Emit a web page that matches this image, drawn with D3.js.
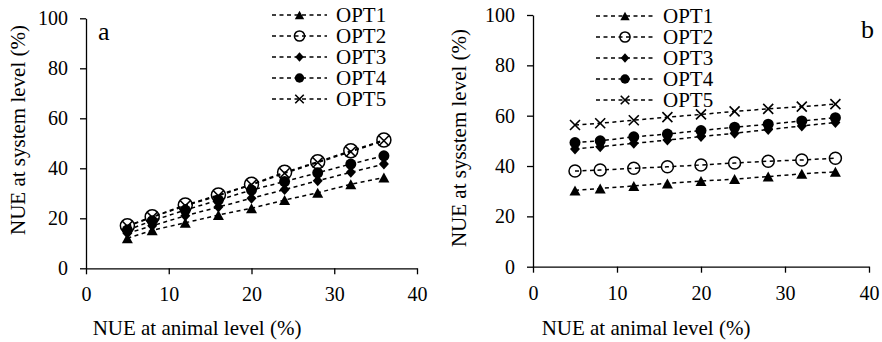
<!DOCTYPE html>
<html>
<head>
<meta charset="utf-8">
<style>
  body { margin: 0; background: #fff; }
  svg .domain, svg .tick line { stroke: #000; stroke-width: 1.3px; }
  svg .series { fill: none; stroke: #000; stroke-width: 1.5px; stroke-dasharray: 4,3.5; }
</style>
</head>
<body>
<script src="https://cdn.jsdelivr.net/npm/d3@7/dist/d3.min.js"></script>
<script>
// data
var nueAnimal = [5, 8, 12, 16, 20, 24, 28, 32, 36];
var seriesNames = ["OPT1", "OPT2", "OPT3", "OPT4", "OPT5"];
var xTicks = [0, 10, 20, 30, 40];
var yTicks = [0, 20, 40, 60, 80, 100];

// panel a
var a_OPT1 = [12, 15.2, 18.2, 21.3, 24, 27.3, 30.2, 33.6, 36.3];
var a_OPT2 = [17, 20.6, 25.3, 29.3, 33.6, 38.4, 42.6, 47, 51.3];
var a_OPT3 = [14, 17, 21, 24.5, 28, 31.5, 35, 38.4, 41.7];
var a_OPT4 = [15.3, 19, 23.3, 27.3, 31.3, 34.7, 38.2, 41.7, 45];
var a_OPT5 = [16.8, 20.4, 25, 29, 33.4, 38, 42.3, 46.6, 51];

// panel b
var b_OPT1 = [30.3, 31.1, 32.1, 33.1, 34, 34.8, 35.8, 36.9, 37.7];
var b_OPT2 = [38, 38.4, 39.1, 39.7, 40.4, 41.2, 41.9, 42.4, 43.1];
var b_OPT3 = [46.8, 47.7, 49, 50.3, 51.7, 53, 54.5, 55.9, 57.3];
var b_OPT4 = [49.3, 50, 51.6, 52.7, 54.1, 55.4, 56.6, 57.9, 59.2];
var b_OPT5 = [56.3, 57, 58.2, 59.4, 60.5, 61.7, 62.7, 63.6, 64.6];

var FONT = "'Liberation Serif'";

var svg = d3.select("body").append("svg")
    .attr("width", 882)
    .attr("height", 342);

// marker shapes, k scales them (legend is smaller)
function drawMarker(g, type, x, y, k, r) {
  if (type === "OPT1") {
    var w = 11 * k, h = 10 * k;
    g.append("path")
      .attr("d", "M" + x + "," + (y - h / 2) + "L" + (x + w / 2) + "," + (y + h / 2) + "L" + (x - w / 2) + "," + (y + h / 2) + "Z")
      .attr("fill", "#000");
  } else if (type === "OPT2") {
    g.append("circle")
      .attr("cx", x).attr("cy", y).attr("r", r * k)
      .attr("fill", "none").attr("stroke", "#000").attr("stroke-width", 1.5);
  } else if (type === "OPT3") {
    var dw = 5 * k, dh = 5.5 * k;
    g.append("path")
      .attr("d", "M" + x + "," + (y - dh) + "L" + (x + dw) + "," + y + "L" + x + "," + (y + dh) + "L" + (x - dw) + "," + y + "Z")
      .attr("fill", "#000");
  } else if (type === "OPT4") {
    g.append("circle")
      .attr("cx", x).attr("cy", y).attr("r", 5.5 * k)
      .attr("fill", "#000");
  } else {
    var s = 5 * k;
    g.append("path")
      .attr("d", "M" + (x - s) + "," + (y - s) + "L" + (x + s) + "," + (y + s) + "M" + (x - s) + "," + (y + s) + "L" + (x + s) + "," + (y - s))
      .attr("stroke", "#000").attr("stroke-width", 1.6).attr("fill", "none");
  }
}

function drawPanel(p) {
  var x = d3.scaleLinear().domain([0, 40]).range(p.xRange);
  var y = d3.scaleLinear().domain([0, 100]).range(p.yRange);

  svg.append("g")
      .attr("transform", "translate(0," + p.yRange[0] + ")")
      .call(d3.axisBottom(x).tickValues(xTicks).tickSize(6).tickSizeOuter(0).tickPadding(13));

  svg.append("g")
      .attr("transform", "translate(" + p.xRange[0] + ",0)")
      .call(d3.axisLeft(y).tickValues(yTicks).tickSize(6).tickSizeOuter(0).tickPadding(12));

  var line = d3.line()
    .x(function (d, i) { return x(nueAnimal[i]); })
    .y(function (d) { return y(d); });

  // series drawn in order so OPT5 ends on top
  p.values.forEach(function (vals, si) {
    var g = svg.append("g");
    g.append("path")
      .classed("series", true)
      .attr("d", line(vals));
    vals.forEach(function (v, i) {
      drawMarker(g, seriesNames[si], x(nueAnimal[i]), y(v), 1, p.circleR);
    });
  });

  // legend
  seriesNames.forEach(function (name, i) {
    var ly = p.legendY + i * 21;
    var g = svg.append("g");
    g.append("line")
      .classed("series", true)
      .attr("x1", p.legendX[0]).attr("x2", p.legendX[1])
      .attr("y1", ly).attr("y2", ly);
    drawMarker(g, name, (p.legendX[0] + p.legendX[1]) / 2, ly, 0.85, 6);
    g.append("text")
      .attr("x", p.legendX[1] + 9)
      .attr("y", ly + 7)
      .style("font-size", "21px")
      .text(name);
  });

  svg.append("text")
    .attr("x", p.label[0])
    .attr("y", p.label[1])
    .style("font-size", "26px")
    .text(p.labelText);

  svg.append("text")
    .attr("transform", "translate(" + p.yTitle[0] + "," + p.yTitle[1] + ") rotate(-90)")
    .style("text-anchor", "middle")
    .style("font-size", "21px")
    .text(p.yTitleText);

  svg.append("text")
    .attr("x", p.xTitle[0])
    .attr("y", p.xTitle[1])
    .style("text-anchor", "middle")
    .style("font-size", "21px")
    .text("NUE at animal level (%)");
}

drawPanel({
  values: [a_OPT1, a_OPT2, a_OPT3, a_OPT4, a_OPT5],
  xRange: [86, 417],
  yRange: [268.3, 18.3],
  circleR: 7,
  legendX: [272, 327],
  legendY: 15,
  label: [98, 40],
  labelText: "a",
  yTitle: [25, 130],
  yTitleText: "NUE at system level (%)",
  xTitle: [197, 335]
});

drawPanel({
  values: [b_OPT1, b_OPT2, b_OPT3, b_OPT4, b_OPT5],
  xRange: [533, 869],
  yRange: [266.7, 15],
  circleR: 6,
  legendX: [596, 654],
  legendY: 16,
  label: [861, 38],
  labelText: "b",
  yTitle: [466, 138],
  yTitleText: "NUE at sysstem level (%)",
  xTitle: [646, 335]
});

// serif everywhere, including the axis tick labels
svg.selectAll("text")
    .style("font-family", FONT)
    .style("fill", "#000");
svg.selectAll(".tick text")
    .style("font-size", "20px");
</script>
</body>
</html>
